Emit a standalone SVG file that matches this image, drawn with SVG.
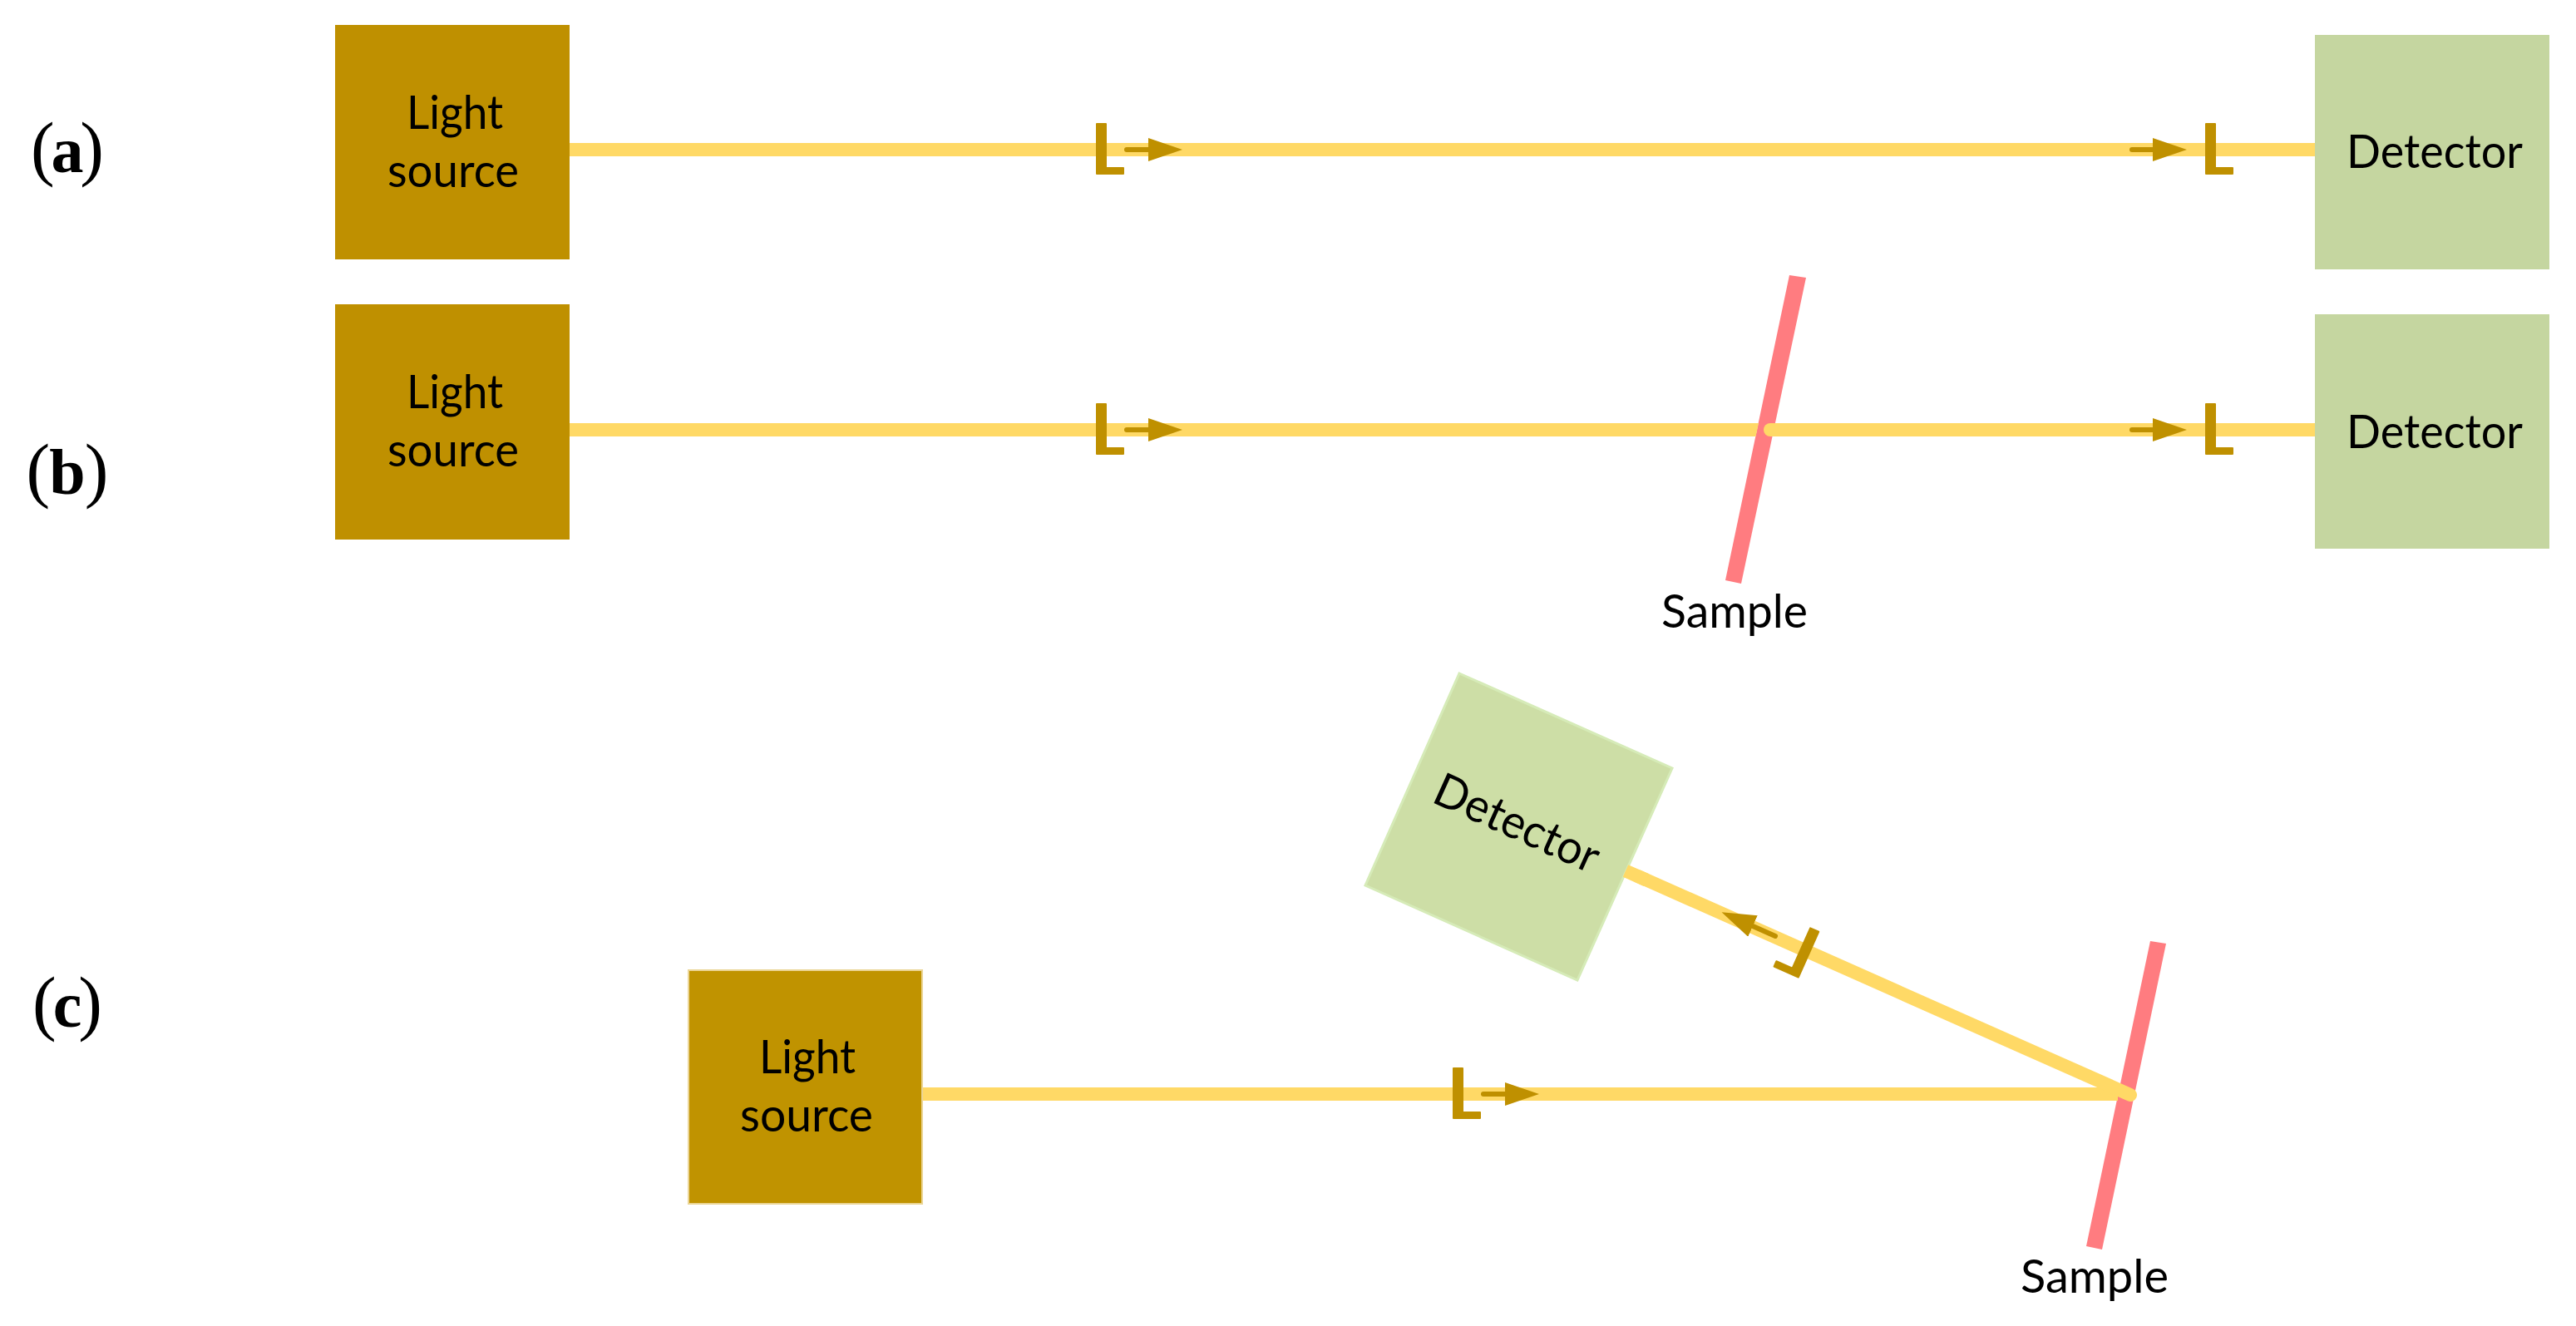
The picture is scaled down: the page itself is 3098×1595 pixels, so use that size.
<svg xmlns="http://www.w3.org/2000/svg" xmlns:xlink="http://www.w3.org/1999/xlink" width="3098" height="1595" viewBox="0 0 3098 1595">
<style>
.src{fill:#BF9000}
.src2{fill:#C09300;stroke:#EBD596;stroke-width:2}
.det{fill:#C5D6A0}
.det2{fill:#CDDEA6;stroke:#D6EBB8;stroke-width:3}
.smp{fill:#FF7C80}
.beam{fill:none;stroke:#FFD966;stroke-width:16}
.beamf{fill:#FFD966}
.round{stroke-linecap:round}
.pol{fill:#BF9000;stroke:#BF9000;stroke-width:2;stroke-linejoin:round}
.arr{fill:none;stroke:#BF9000;stroke-width:6;stroke-linecap:round;marker-end:url(#head)}
text{font-family:Lato,"Open Sans",sans-serif;font-size:56px;fill:#000}
.lab{font-family:"Liberation Serif","Times New Roman",serif;font-size:86px;text-anchor:middle}
.lab tspan{font-weight:700;font-size:78px}
</style>
<defs>
<marker id="head" markerUnits="userSpaceOnUse" markerWidth="42" markerHeight="28" refX="0" refY="14" orient="auto" viewBox="0 0 42 28"><path d="M0 0L41 14L0 28Z" fill="#BF9000"/></marker>
<g id="pol-l"><path class="pol" d="M1-31H12V22H33V29H1Z"/></g>
</defs>
<rect width="3098" height="1595" fill="#fff"/>
<g id="label-a"><text class="lab" x="81" y="207" textLength="88">(<tspan>a</tspan>)</text></g>
<g id="label-b"><text class="lab" x="81" y="594" textLength="99">(<tspan>b</tspan>)</text></g>
<g id="label-c"><text class="lab" x="81" y="1235" textLength="84">(<tspan>c</tspan>)</text></g>
<g id="source-a"><rect class="src" x="403" y="30" width="282" height="282"/><text x="489" y="155" textLength="116" lengthAdjust="spacingAndGlyphs">Light</text><text x="466" y="225" textLength="158" lengthAdjust="spacingAndGlyphs">source</text></g>
<g id="detector-a"><rect class="det" x="2784" y="42" width="282" height="282"/><text x="2822" y="202" textLength="212" lengthAdjust="spacingAndGlyphs">Detector</text></g>
<g id="source-b"><rect class="src" x="403" y="366" width="282" height="283"/><text x="489" y="491" textLength="116" lengthAdjust="spacingAndGlyphs">Light</text><text x="466" y="561" textLength="158" lengthAdjust="spacingAndGlyphs">source</text></g>
<g id="detector-b"><rect class="det" x="2784" y="378" width="282" height="282"/><text x="2822" y="539" textLength="212" lengthAdjust="spacingAndGlyphs">Detector</text></g>
<g id="sample-b"><path class="smp" d="M2152 331L2172 334L2094 702L2075 698Z"/><text x="1998" y="755" textLength="176" lengthAdjust="spacingAndGlyphs">Sample</text></g>
<g id="source-c"><rect class="src2" x="828" y="1167" width="281" height="281"/><text x="913" y="1291" textLength="116" lengthAdjust="spacingAndGlyphs">Light</text><text x="890" y="1361" textLength="160" lengthAdjust="spacingAndGlyphs">source</text></g>
<g id="detector-c"><path class="det2" d="M1755 810L2011 924L1897 1179L1642 1065Z"/><text transform="translate(1720 964) rotate(24.3)" textLength="212" lengthAdjust="spacingAndGlyphs">Detector</text></g>
<g id="sample-c"><path class="smp" d="M2586 1132L2605 1135L2528 1503L2509 1499Z"/><text x="2430" y="1555" textLength="178" lengthAdjust="spacingAndGlyphs">Sample</text></g>
<g id="connectors">
<path class="beam" d="M685 180H2784"/>
<path class="beamf" d="M685 509H2115L2111.500 525H685Z"/>
<path class="beam round" d="M2129 517H2700"/>
<path class="beam" d="M2690 517H2784"/>
<path class="beam" d="M1110 1316H2547"/>
<path class="beam round" d="M2562 1317L1970 1054"/>
<path class="beam" d="M1980 1058.600L1955 1047.500"/>
<use href="#pol-l" x="1318" y="180"/><path class="arr" d="M1355 180H1381"/>
<use href="#pol-l" x="2652" y="180"/><path class="arr" d="M2564 180H2589"/>
<use href="#pol-l" x="1318" y="517"/><path class="arr" d="M1355 517H1381"/>
<use href="#pol-l" x="2652" y="517"/><path class="arr" d="M2564 517H2589"/>
<use href="#pol-l" x="1747" y="1316"/><path class="arr" d="M1784 1316H1810"/>
<use href="#pol-l" transform="translate(2175.500 1149.500) rotate(24) scale(-1 1)"/>
<path class="arr" d="M2135 1126L2108 1114"/>
</g>
</svg>
